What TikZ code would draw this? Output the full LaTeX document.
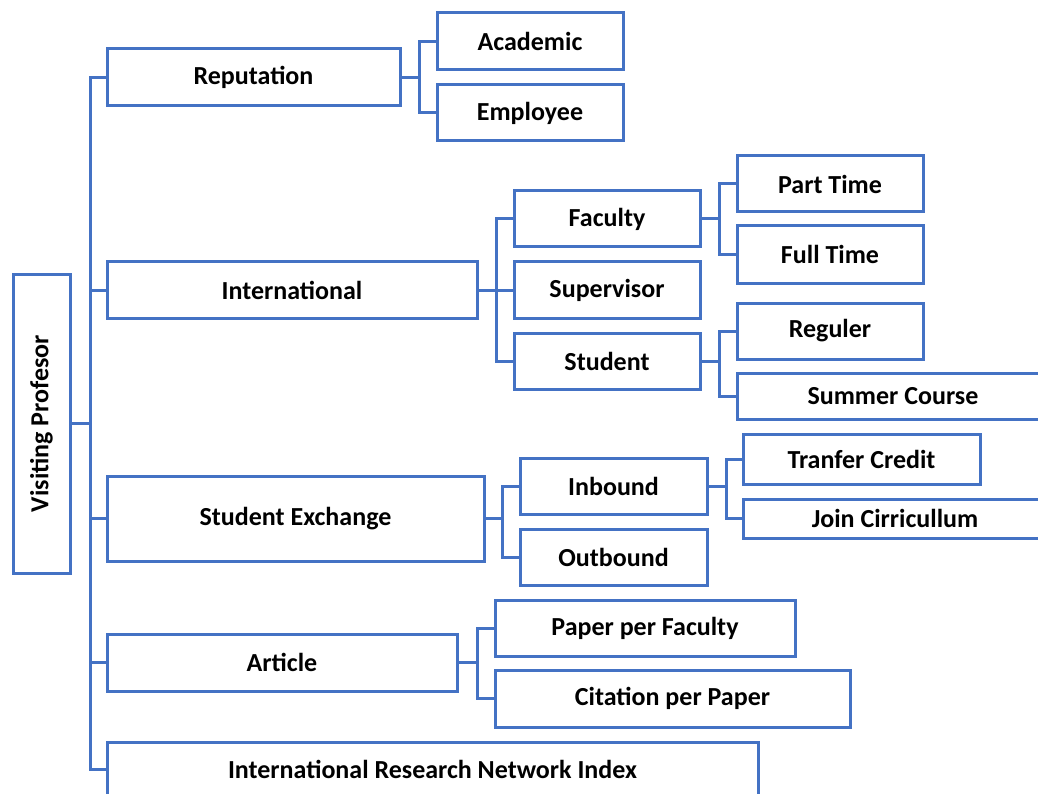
\documentclass[tikz,border=0pt]{standalone}
\usepackage{fontspec}
\setmainfont{Carlito}
\usepackage{graphicx}
\definecolor{boxblue}{HTML}{4472C4}
\tikzset{
  box/.style={draw=boxblue, line width=3pt, fill=white, inner sep=0pt,
    font=\fontsize{26}{31}\selectfont\bfseries, text=black},
  conn/.style={draw=boxblue, line width=3pt}
}
\newcommand{\bx}[7]{\node[box, minimum width=#5pt, minimum height=#6pt] (#1) at (#2,#3) {#7};}
\begin{document}
\begin{tikzpicture}[x=1pt,y=-1pt]
\useasboundingbox (0,0) rectangle (1038,794);
\clip (0,0) rectangle (1038,794);
% boxes
\bx{vp}{41.5}{423.5}{}{57}{299}{\rotatebox{90}{Visiting Profesor}}
\bx{rep}{253.5}{77.5}{}{293}{57}{Reputation}
\bx{aca}{530}{41.5}{}{186}{57}{Academic}
\bx{emp}{530}{113}{}{186}{56}{Employee}
\bx{intl}{292}{290}{}{370}{56}{International}
\bx{fac}{607}{219}{}{186}{56}{Faculty}
\bx{sup}{607}{290}{}{186}{56}{Supervisor}
\bx{stu}{607}{361}{}{186}{56}{Student}
\bx{pt}{830}{184}{}{186}{56}{Part Time}
\bx{ft}{830}{254.5}{}{186}{57}{Full Time}
\bx{reg}{830}{331}{}{186}{56}{Reguler}
\bx{sc}{893}{396}{}{312}{46}{Summer Course}
\bx{se}{295.5}{518.5}{}{377}{85}{Student Exchange}
\bx{inb}{613.5}{486}{}{187}{56}{Inbound}
\bx{outb}{613.5}{557}{}{187}{56}{Outbound}
\bx{tc}{861.5}{459}{}{237}{50}{Tranfer Credit}
\bx{jc}{895}{518.5}{}{304}{39}{Join Cirricullum}
\bx{art}{282}{662.5}{}{350}{57}{Article}
\bx{ppf}{645}{628}{}{300}{56}{Paper per Faculty}
\bx{cpp}{672.5}{698.5}{}{355}{57}{Citation per Paper}
\bx{irni}{432.5}{769}{}{651}{54}{International Research Network Index}
% connectors
\draw[conn] (vp.east) -- ++(19,0) coordinate (tr);
\foreach \c in {rep,intl,se,art,irni} {\draw[conn] (tr) |- (\c.west);}
\draw[conn] (rep.east) -- ++(18,0) coordinate (rb);
\foreach \c in {aca,emp} {\draw[conn] (rb) |- (\c.west);}
\draw[conn] (intl.east) -- ++(18,0) coordinate (ib);
\foreach \c in {fac,sup,stu} {\draw[conn] (ib) |- (\c.west);}
\draw[conn] (fac.east) -- ++(18,0) coordinate (fb);
\foreach \c in {pt,ft} {\draw[conn] (fb) |- (\c.west);}
\draw[conn] (stu.east) -- ++(18,0) coordinate (sb);
\foreach \c in {reg,sc} {\draw[conn] (sb) |- (\c.west);}
\draw[conn] (se.east) -- ++(17,0) coordinate (eb);
\foreach \c in {inb,outb} {\draw[conn] (eb) |- (\c.west);}
\draw[conn] (inb.east) -- ++(18,0) coordinate (nb);
\foreach \c in {tc,jc} {\draw[conn] (nb) |- (\c.west);}
\draw[conn] (art.east) -- ++(19,0) coordinate (ab);
\foreach \c in {ppf,cpp} {\draw[conn] (ab) |- (\c.west);}
\end{tikzpicture}
\end{document}
